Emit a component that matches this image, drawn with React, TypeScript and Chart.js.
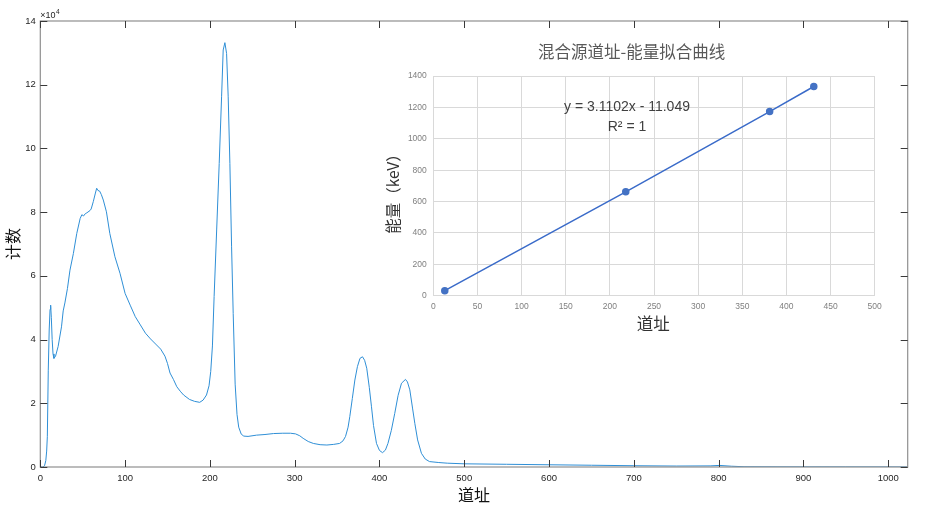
import React, { useEffect, useRef } from "react";
import { Chart, registerables } from "chart.js";

Chart.register(...registerables);

// ---- Main spectrum data ----
const spectrumChannels = [
  0, 3, 5, 6.5, 7.5, 8.3, 9.4, 10.5, 11.5, 12.2, 13, 14, 15, 16.1, 18, 21, 25, 27, 29, 32,
  35, 39, 43, 47, 49, 51, 53, 55, 58.6, 60, 62.5, 65, 66.5, 68, 70, 72, 74.3, 78, 82, 88,
  94, 100, 106, 112, 118, 124, 130, 136, 142, 147, 150, 153, 157, 161, 165, 169, 176, 182, 188, 192,
  196, 199, 201, 203, 205, 208, 211, 213.8, 215.7, 217.7, 219.7, 221.6, 223.6, 225.6, 227.5, 229.8, 232, 234, 237, 240,
  245, 255, 265, 275, 286, 295, 301, 306, 310, 316, 322, 330, 338, 346, 353, 357, 360, 363, 365, 368,
  371, 374, 377, 380, 382.5, 385, 388, 390.6, 393, 396.5, 400, 403.6, 407, 410, 414, 418, 422, 426, 430.7, 433,
  435.8, 439, 441.7, 445, 449.5, 454, 459, 470, 480, 500, 550, 600, 650, 700, 750, 790, 801, 815, 830, 870,
  950, 1023,
];
const spectrumCounts = [
  0, 0, 400, 2000, 5000, 9500, 30400, 43000, 49500, 50800, 47000, 40000, 35500, 34100, 34800, 37800, 44000, 49000, 51500, 56000,
  61800, 67000, 73300, 78000, 79200, 78800, 79500, 79800, 80500, 81000, 83300, 86000, 87500, 86800, 86600, 85500, 83800, 80100, 73300, 66000,
  60800, 54500, 50800, 47200, 44600, 42000, 40200, 38600, 37000, 34800, 32500, 29500, 27500, 25200, 23800, 22600, 21200, 20600, 20300, 21000,
  22600, 25500, 30000, 38000, 53500, 74400, 95300, 116200, 130900, 133200, 129800, 116200, 95300, 69100, 48200, 26000, 16500, 12500, 10300, 9700,
  9600, 10000, 10200, 10500, 10600, 10600, 10400, 9800, 9000, 8000, 7400, 7000, 6900, 7100, 7400, 8200, 9600, 12500, 15800, 21500,
  27300, 31500, 34100, 34600, 33500, 31000, 25000, 18900, 13000, 7400, 5200, 4500, 5300, 7400, 11500, 16800, 22500, 26300, 27500, 26700,
  24200, 18500, 13700, 8500, 4300, 2500, 1700, 1400, 1200, 1000, 850, 700, 550, 400, 300, 350, 500, 250, 80, 50,
  30, 20,
];
const mainXTicks = [0, 100, 200, 300, 400, 500, 600, 700, 800, 900, 1000];
const mainYTicks = [0, 20000, 40000, 60000, 80000, 100000, 120000, 140000];
const mainXMax = 1023;
const mainYMax = 140000;
const mainXLabel = "道址";
const mainYLabel = "计数";
const mainMultiplier = "×10";
const mainExponent = "4";

// ---- Inset calibration data ----
const fitChannels = [13, 218, 381, 431];
const fitEnergies = [32, 662, 1173, 1333];
const insetXTicks = [0, 50, 100, 150, 200, 250, 300, 350, 400, 450, 500];
const insetYTicks = [0, 200, 400, 600, 800, 1000, 1200, 1400];
const insetTitle = "混合源道址-能量拟合曲线";
const insetXLabel = "道址";
const insetYLabel = "能量（keV）";
const fitEquation = "y = 3.1102x - 11.049";
const fitR2 = "R² = 1";

const CJK = '"Noto Sans CJK SC", sans-serif';
const LAT = '"Liberation Sans", Arial, sans-serif';

export default function App() {
  const mainRef = useRef<HTMLCanvasElement | null>(null);
  const insetRef = useRef<HTMLCanvasElement | null>(null);

  useEffect(() => {
    const mainCanvas = mainRef.current!;
    const insetCanvas = insetRef.current!;

    const mainDecor = {
      id: "mainDecor",
      afterDraw(chart: any) {
        const { ctx, chartArea } = chart;
        const { left, right, top, bottom } = chartArea;
        const xs = chart.scales.x;
        const ys = chart.scales.y;
        ctx.save();
        ctx.strokeStyle = "#8f8f8f";
        ctx.lineWidth = 1.2;
        ctx.strokeRect(left, top, right - left, bottom - top);
        ctx.strokeStyle = "#3a3a3a";
        ctx.lineWidth = 1;
        const tl = 7;
        mainXTicks.forEach((v) => {
          const px = Math.round(xs.getPixelForValue(v)) + 0.5;
          ctx.beginPath();
          ctx.moveTo(px, bottom);
          ctx.lineTo(px, bottom - tl);
          ctx.moveTo(px, top);
          ctx.lineTo(px, top + tl);
          ctx.stroke();
        });
        mainYTicks.forEach((v) => {
          const py = Math.round(ys.getPixelForValue(v)) + 0.5;
          ctx.beginPath();
          ctx.moveTo(left, py);
          ctx.lineTo(left + tl, py);
          ctx.moveTo(right, py);
          ctx.lineTo(right - tl, py);
          ctx.stroke();
        });
        // multiplier
        ctx.fillStyle = "#262626";
        ctx.textAlign = "left";
        ctx.textBaseline = "alphabetic";
        ctx.font = `9px ${LAT}`;
        ctx.fillText(mainMultiplier, left, top - 3);
        const w = ctx.measureText(mainMultiplier).width;
        ctx.font = `6.5px ${LAT}`;
        ctx.fillText(mainExponent, left + w + 0.5, top - 7);
        // axis titles
        ctx.fillStyle = "#111";
        ctx.font = `16px ${CJK}`;
        ctx.textAlign = "center";
        ctx.textBaseline = "middle";
        ctx.fillText(mainXLabel, (left + right) / 2, 495);
        ctx.save();
        ctx.translate(13, (top + bottom) / 2);
        ctx.rotate(-Math.PI / 2);
        ctx.fillText(mainYLabel, 0, 0);
        ctx.restore();
        ctx.restore();
      },
    };

    const mainChart = new Chart(mainCanvas, {
      type: "scatter",
      data: {
        datasets: [
          {
            data: spectrumChannels.map((c, i) => ({ x: c, y: spectrumCounts[i] })),
            showLine: true,
            borderColor: "#2f8fd6",
            borderWidth: 1,
            pointRadius: 0,
            tension: 0,
          },
        ],
      },
      options: {
        animation: false,
        responsive: false,
        events: [],
        plugins: { legend: { display: false }, tooltip: { enabled: false } },
        layout: { padding: { left: 0, top: 21, right: 926 - 907.7, bottom: 0 } },
        scales: {
          x: {
            type: "linear",
            min: 0,
            max: mainXMax,
            afterBuildTicks: (s: any) => {
              s.ticks = mainXTicks.map((v) => ({ value: v }));
            },
            afterFit: (s: any) => {
              s.height = 512 - 467;
            },
            grid: { display: false, drawTicks: false },
            border: { display: false },
            ticks: {
              autoSkip: false,
              maxRotation: 0,
              padding: 6,
              color: "#262626",
              font: { family: LAT, size: 9.5 },
              callback: (v: any) => String(v),
            },
          },
          y: {
            type: "linear",
            min: 0,
            max: mainYMax,
            afterBuildTicks: (s: any) => {
              s.ticks = mainYTicks.map((v) => ({ value: v }));
            },
            afterFit: (s: any) => {
              s.width = 40.3;
            },
            grid: { display: false, drawTicks: false },
            border: { display: false },
            ticks: {
              autoSkip: false,
              padding: 4.5,
              color: "#262626",
              font: { family: LAT, size: 9.5 },
              callback: (v: any) => String(Number(v) / 10000),
            },
          },
        },
      },
      plugins: [mainDecor],
    } as any);

    const insetDecor = {
      id: "insetDecor",
      afterDraw(chart: any) {
        const { ctx } = chart;
        ctx.save();
        ctx.textAlign = "center";
        ctx.textBaseline = "middle";
        ctx.fillStyle = "#595959";
        ctx.font = `16.5px ${CJK}`;
        ctx.fillText(insetTitle, 251.7, 22);
        ctx.fillStyle = "#404040";
        ctx.font = `14px ${LAT}`;
        ctx.fillText(fitEquation, 247, 77);
        ctx.fillText(fitR2, 247, 97);
        ctx.fillStyle = "#333";
        ctx.font = `16.5px ${CJK}`;
        ctx.fillText(insetXLabel, 273.3, 294);
        ctx.save();
        ctx.translate(13.3, 160);
        ctx.rotate(-Math.PI / 2);
        ctx.font = `15.5px ${CJK}`;
        ctx.fillText(insetYLabel, 0, 0);
        ctx.restore();
        ctx.restore();
      },
    };

    const insetChart = new Chart(insetCanvas, {
      type: "scatter",
      data: {
        datasets: [
          {
            data: fitChannels.map((c, i) => ({ x: c, y: fitEnergies[i] })),
            showLine: true,
            borderColor: "#3a6bc9",
            borderWidth: 1.5,
            pointRadius: 3,
            pointBackgroundColor: "#4472c4",
            pointBorderColor: "#4472c4",
            tension: 0,
          },
        ],
      },
      options: {
        animation: false,
        responsive: false,
        events: [],
        plugins: { legend: { display: false }, tooltip: { enabled: false } },
        layout: { padding: { left: 0, top: 46, right: 15.3, bottom: 0 } },
        scales: {
          x: {
            type: "linear",
            min: 0,
            max: 500,
            afterBuildTicks: (s: any) => {
              s.ticks = insetXTicks.map((v) => ({ value: v }));
            },
            afterFit: (s: any) => {
              s.height = 44.3;
            },
            grid: { color: "#d9d9d9", lineWidth: 1, drawTicks: false },
            border: { display: false },
            ticks: {
              autoSkip: false,
              maxRotation: 0,
              padding: 6,
              color: "#7f7f7f",
              font: { family: LAT, size: 8.5 },
              callback: (v: any) => String(v),
            },
          },
          y: {
            type: "linear",
            min: 0,
            max: 1400,
            afterBuildTicks: (s: any) => {
              s.ticks = insetYTicks.map((v) => ({ value: v }));
            },
            afterFit: (s: any) => {
              s.width = 53.3;
            },
            grid: { color: "#d9d9d9", lineWidth: 1, drawTicks: false },
            border: { display: false },
            ticks: {
              autoSkip: false,
              padding: 6.5,
              color: "#7f7f7f",
              font: { family: LAT, size: 8.5 },
              callback: (v: any) => String(v),
            },
          },
        },
      },
      plugins: [insetDecor],
    } as any);

    return () => {
      mainChart.destroy();
      insetChart.destroy();
    };
  }, []);

  return (
    <div style={{ position: "absolute", left: 0, top: 0, width: 926, height: 512, background: "#fff" }}>
      <canvas
        ref={mainRef}
        width={926}
        height={512}
        style={{ position: "absolute", left: 0, top: 0, width: 926, height: 512 }}
      />
      <canvas
        ref={insetRef}
        width={510}
        height={310}
        style={{ position: "absolute", left: 380, top: 30, width: 510, height: 310 }}
      />
    </div>
  );
}
